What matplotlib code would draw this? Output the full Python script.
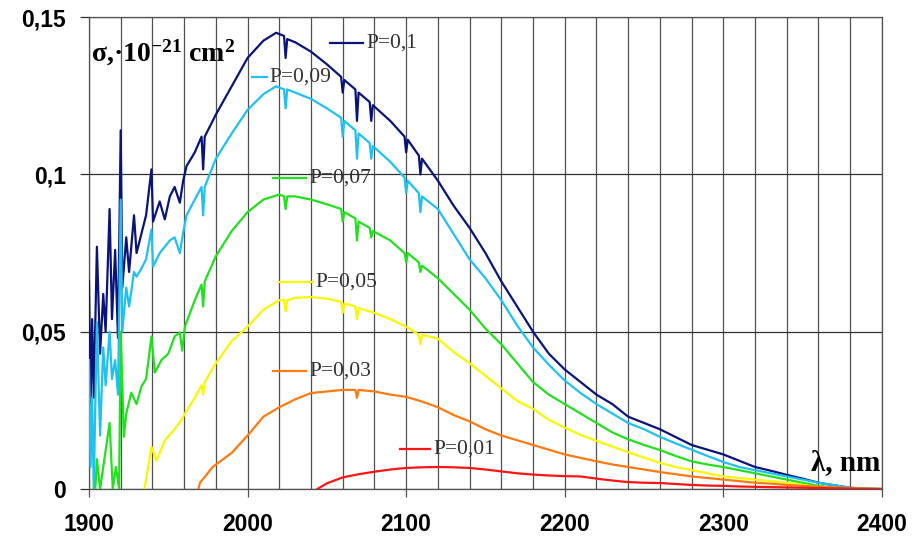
import matplotlib
matplotlib.use('Agg')
import matplotlib.pyplot as plt
import numpy as np

plt.rcParams['mathtext.fontset'] = 'custom'
plt.rcParams['mathtext.rm'] = 'Liberation Serif:bold'
plt.rcParams['mathtext.default'] = 'rm'

# P = 0,1 and P = 0,09 share the same wavelength samples
wl_hi = [1900, 1901, 1902, 1903, 1905, 1907, 1909, 1910.5, 1913, 1914.5, 1916.5, 1918.3,
         1920, 1921, 1923.5, 1925.3, 1928.4, 1930, 1933, 1936, 1939.4, 1940.4, 1944.6,
         1947.8, 1951, 1954, 1957.3, 1959.4, 1961.5, 1966.7, 1971, 1972, 1973, 1980, 1990,
         2000, 2010, 2018, 2023, 2024, 2025, 2030, 2040, 2050, 2059, 2060, 2061, 2068, 2069,
         2070, 2077, 2078, 2079, 2090, 2099, 2100, 2101, 2108, 2109, 2110, 2120, 2130, 2140,
         2150, 2160, 2170, 2180, 2190, 2200, 2210, 2220, 2230, 2240, 2250, 2260, 2270, 2280,
         2290, 2300, 2310, 2320, 2330, 2340, 2350, 2360, 2370, 2380, 2390, 2400]
s_p10 = [0.066, 0.027, 0.054, 0.029, 0.077, 0.043, 0.062, 0.050, 0.089, 0.054, 0.076, 0.048,
         0.114, 0.064, 0.080, 0.069, 0.087, 0.075, 0.081, 0.087, 0.1016, 0.085, 0.0914,
         0.0857, 0.093, 0.096, 0.091, 0.098, 0.1026, 0.107, 0.112, 0.1016, 0.112, 0.119, 0.128,
         0.137, 0.1425, 0.145, 0.144, 0.137, 0.143, 0.142, 0.139, 0.135, 0.131, 0.126, 0.130, 0.127, 0.117,
         0.126, 0.123, 0.117, 0.122, 0.117, 0.112, 0.107, 0.111, 0.106, 0.100, 0.105, 0.098, 0.090, 0.083,
         0.075, 0.066, 0.058, 0.050, 0.043, 0.038, 0.034, 0.030, 0.027, 0.023, 0.021, 0.019, 0.0165, 0.014,
         0.0125, 0.011, 0.009, 0.007, 0.0058, 0.0045, 0.0033, 0.002, 0.0012, 0.0004, 0.0001, 0.0]
s_p09 = [0.041, 0.007, 0.029, 0.0, 0.053, 0.017, 0.045, 0.033, 0.050, 0.035, 0.041, 0.030,
         0.092, 0.050, 0.064, 0.058, 0.069, 0.0675, 0.070, 0.073, 0.0825, 0.0707, 0.075,
         0.077, 0.079, 0.080, 0.075, 0.0815, 0.087, 0.092, 0.096, 0.087, 0.096, 0.105, 0.113,
         0.1205, 0.1255, 0.128, 0.127, 0.121, 0.127, 0.126, 0.124, 0.121, 0.118, 0.112, 0.117, 0.114, 0.105,
         0.113, 0.110, 0.105, 0.109, 0.104, 0.099, 0.094, 0.098, 0.094, 0.088, 0.093, 0.089, 0.081, 0.073,
         0.067, 0.060, 0.052, 0.045, 0.0395, 0.0345, 0.0305, 0.027, 0.024, 0.021, 0.019, 0.0166, 0.0145, 0.0125,
         0.0105, 0.0086, 0.007, 0.006, 0.005, 0.004, 0.003, 0.002, 0.0012, 0.0004, 0.0001, 0.0]

tail = [2120, 2130, 2140, 2150, 2160, 2170, 2180, 2190, 2200, 2210, 2220, 2230, 2240, 2250,
        2260, 2270, 2280, 2290, 2300, 2310, 2320, 2330, 2340, 2350, 2360, 2370, 2380, 2390, 2400]

wl_p07 = [1904, 1905, 1907, 1913, 1915, 1917, 1919, 1920, 1922, 1923.5, 1926.7, 1930, 1933, 1936,
          1939.4, 1941.5, 1945.7, 1950, 1954, 1957.3, 1958.8, 1960.5, 1966.7, 1971, 1972, 1973,
          1980, 1990, 2000, 2010, 2020, 2023, 2024, 2025, 2030, 2040, 2050, 2059, 2060, 2061,
          2068, 2069, 2070, 2077, 2078, 2079, 2090, 2099, 2100, 2101, 2108, 2109, 2110] + tail
s_p07 = [0.0, 0.0095, 0.0, 0.021, 0.0, 0.007, 0.0, 0.050, 0.0166, 0.024, 0.0306, 0.027, 0.0325, 0.035,
         0.0485, 0.037, 0.041, 0.043, 0.0485, 0.0497, 0.044, 0.0516, 0.060, 0.065, 0.058, 0.066,
         0.074, 0.082, 0.088, 0.092, 0.0936, 0.093, 0.089, 0.093, 0.093, 0.092, 0.0905, 0.089, 0.085, 0.088,
         0.086, 0.079, 0.085, 0.083, 0.080, 0.082, 0.079, 0.075, 0.072, 0.075, 0.072, 0.069, 0.071,
         0.067, 0.062, 0.057, 0.051, 0.046, 0.040, 0.034, 0.030, 0.027, 0.024, 0.021, 0.018, 0.0158, 0.014,
         0.0124, 0.0105, 0.0088, 0.0078, 0.007, 0.006, 0.005, 0.004, 0.003, 0.002, 0.001, 0.0005, 0.0001, 0.0, 0.0]

wl_p05 = [1935, 1939.4, 1942.5, 1948, 1954, 1958.4, 1960.5, 1966.7, 1971, 1972, 1973, 1980, 1990,
          2000, 2010, 2020, 2023, 2024, 2025, 2030, 2040, 2050, 2059, 2060, 2061, 2068, 2069, 2070,
          2080, 2090, 2100, 2108, 2109, 2110] + tail
s_p05 = [0.0, 0.0134, 0.009, 0.0156, 0.019, 0.022, 0.024, 0.029, 0.033, 0.030, 0.034, 0.040, 0.047,
         0.0516, 0.057, 0.060, 0.060, 0.0565, 0.060, 0.0608, 0.061, 0.0605, 0.0595, 0.056, 0.059, 0.058, 0.054, 0.0575,
         0.056, 0.054, 0.0516, 0.049, 0.046, 0.049,
         0.0478, 0.0435, 0.040, 0.036, 0.032, 0.028, 0.0255, 0.022, 0.0195, 0.0172, 0.0153, 0.0135, 0.0117, 0.010,
         0.0083, 0.007, 0.006, 0.005, 0.004, 0.0035, 0.003, 0.0025, 0.002, 0.0013, 0.0006, 0.0003, 0.0001, 0.0, 0.0]

wl_p03 = [1969, 1970, 1978, 1990, 2000, 2010, 2020, 2030, 2040, 2050, 2060, 2068, 2069, 2070,
          2080, 2090, 2100, 2110] + tail
s_p03 = [0.0, 0.002, 0.007, 0.0115, 0.017, 0.023, 0.026, 0.0285, 0.0305, 0.031, 0.0315, 0.0315, 0.029, 0.0315,
         0.031, 0.030, 0.0293, 0.0278,
         0.026, 0.0235, 0.0215, 0.019, 0.017, 0.0155, 0.014, 0.0125, 0.011, 0.0099, 0.0088, 0.0078, 0.007, 0.0062,
         0.0054, 0.0047, 0.004, 0.0035, 0.003, 0.0025, 0.002, 0.0017, 0.0013, 0.001, 0.0007, 0.0005, 0.0003, 0.0001, 0.0]

wl_p01 = [2044, 2050, 2060, 2070, 2080, 2090, 2100, 2110] + tail
s_p01 = [0.0, 0.0018, 0.0037, 0.0047, 0.0055, 0.0062, 0.0067, 0.0069,
         0.007, 0.0069, 0.0067, 0.0062, 0.0056, 0.005, 0.0046, 0.0043, 0.0041, 0.004, 0.0033, 0.0027, 0.0022, 0.002,
         0.0019, 0.0016, 0.0013, 0.0011, 0.001, 0.0008, 0.0007, 0.0006, 0.0005, 0.0004, 0.0003, 0.0002, 0.0001, 0.0, 0.0]

labels = ['P=0,1', 'P=0,09', 'P=0,07', 'P=0,05', 'P=0,03', 'P=0,01']
series = [(wl_hi, s_p10), (wl_hi, s_p09), (wl_p07, s_p07), (wl_p05, s_p05), (wl_p03, s_p03), (wl_p01, s_p01)]
colors = ['#0a1478', '#20c0f0', '#22e01e', '#f8f800', '#ff7a10', '#ff1414']

# inline label placement: (line start, line end, y) in data units
label_pos = [(2052, 2073, 0.1418), (2003, 2012, 0.131), (2016, 2037, 0.0989),
             (2020, 2041, 0.0658), (2016, 2037, 0.0375), (2096, 2115, 0.0127)]

fig = plt.figure(figsize=(9.22, 5.4), dpi=100)
ax = fig.add_axes([0.0965, 0.0944, 0.86, 0.874])

for (x, y), c in zip(series, colors):
    ax.plot(x, y, color=c, lw=1.6, zorder=3)

for (x0, x1, yy), lab, c in zip(label_pos, labels, colors):
    ax.plot([x0, x1], [yy, yy], color=c, lw=1.6, zorder=3)
    ax.text(x1 + 2, yy, lab, family='Liberation Serif', fontsize=15.5, color='#303030',
            ha='left', va='center', zorder=4)

ax.set_xlim(1900, 2400)
ax.set_ylim(0, 0.15)
ax.set_xticks([1900, 2000, 2100, 2200, 2300, 2400])
ax.set_xticks(np.arange(1900, 2401, 20), minor=True)
ax.set_yticks([0, 0.05, 0.1, 0.15])
ax.set_yticklabels(['0', '0,05', '0,1', '0,15'])
ax.grid(True, which='both', axis='x', color='#505050', lw=0.9, zorder=1)
ax.grid(True, which='major', axis='y', color='#303030', lw=0.9, zorder=1)
ax.tick_params(axis='x', which='major', length=6, width=0.9, color='#505050', pad=11)
ax.tick_params(axis='x', which='minor', length=0)
ax.tick_params(axis='y', length=6.5, width=0.9, color='#303030', pad=10)
for lab in ax.get_xticklabels() + ax.get_yticklabels():
    lab.set_family('Liberation Sans')
    lab.set_fontweight('bold')
    lab.set_fontsize(16.5)
for s in ax.spines.values():
    s.set_color('#505050')
    s.set_linewidth(0.9)

ax.text(0.003, 0.955, r'σ,·10$^{-21}$ cm$^{2}$', transform=ax.transAxes,
        family='Liberation Serif', fontweight='bold', fontsize=20, ha='left', va='top')
ax.text(0.998, 0.057, 'λ, nm', transform=ax.transAxes, family='Liberation Serif',
        fontweight='bold', fontsize=21, ha='right', va='center')

fig.savefig('out.png', dpi=100)
